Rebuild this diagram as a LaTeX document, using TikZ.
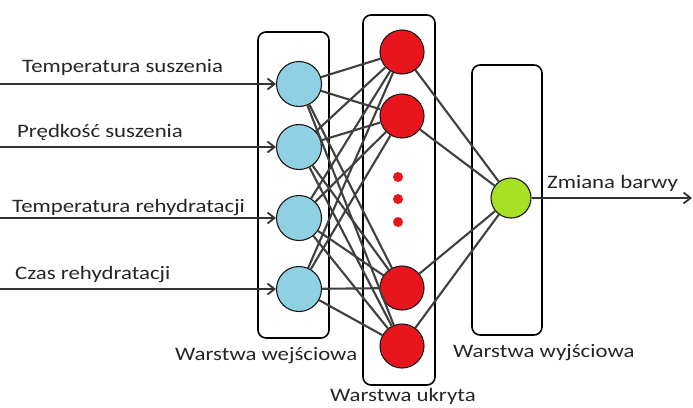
\documentclass[tikz,border=0pt]{standalone}
\usepackage{fontspec}
\setmainfont{Carlito}[FakeStretch=1.2]
\usetikzlibrary{arrows.meta}
\definecolor{inblue}{HTML}{8FD0E2}
\definecolor{hidred}{HTML}{E8161C}
\definecolor{outgreen}{HTML}{A8E026}
\definecolor{txt}{HTML}{262626}
\begin{document}
\begin{tikzpicture}[x=1pt,y=-1pt,
  layerbox/.style={draw=black, line width=1.6pt, rounded corners=8pt, inner sep=0pt},
  inneuron/.style={circle, draw=black!90, line width=1.1pt, fill=inblue, minimum size=45pt, inner sep=0pt},
  hidneuron/.style={circle, draw=black!90, line width=1.1pt, fill=hidred, minimum size=44pt, inner sep=0pt},
  outneuron/.style={circle, draw=black!90, line width=1.1pt, fill=outgreen, minimum size=40pt, inner sep=0pt},
  dotn/.style={circle, fill=hidred, minimum size=10pt, inner sep=0pt},
  link/.style={draw=black!75, line width=2.1pt},
  arrowline/.style={draw=black!80, line width=1.8pt, -{Straight Barb[length=7pt,width=11pt]}},
  lbl/.style={text=txt, font=\fontsize{19}{22}\selectfont, inner sep=0pt, anchor=base west}
]
\useasboundingbox (0,0) rectangle (693,407);
\fill[white] (0,0) rectangle (693,407);

% layer boxes
\node[layerbox, minimum width=71pt, minimum height=306pt] (L1) at (293.5,185) {};
\node[layerbox, minimum width=72pt, minimum height=370pt] (L2) at (399,200) {};
\node[layerbox, minimum width=70pt, minimum height=270pt] (L3) at (507,200) {};

% neurons
\node[inneuron] (i1) at (299,84) {};
\node[inneuron] (i2) at (299,147) {};
\node[inneuron] (i3) at (299,218) {};
\node[inneuron] (i4) at (299,289) {};
\node[hidneuron] (h1) at (402,52) {};
\node[hidneuron] (h2) at (402,116) {};
\node[hidneuron] (h3) at (402,288) {};
\node[hidneuron] (h4) at (402,346) {};
\node[dotn] (d1) at (398,177) {};
\node[dotn] (d2) at (398,199) {};
\node[dotn] (d3) at (398,222) {};
\node[outneuron] (o) at (511,198) {};

% connections
\foreach \a in {i1,i2,i3,i4}{
  \foreach \b in {h1,h2,h3,h4}{
    \draw[link] (\a) -- (\b);
  }
}
\foreach \b in {h1,h2,h3,h4}{
  \draw[link] (\b) -- (o);
}

% inputs
\coordinate (s1) at (0,84);
\coordinate (s2) at (0,147);
\coordinate (s3) at (0,218);
\coordinate (s4) at (0,289);
\foreach \k in {1,2,3,4}{
  \draw[arrowline] (s\k) -- (i\k);
}
\coordinate (e) at (692,198);
\draw[arrowline] (o) -- (e);

% labels
\node[lbl] (t1) at (22,72) {Temperatura suszenia};
\node[lbl] (t2) at (17,137) {Prędkość suszenia};
\node[lbl] (t3) at (12,212) {Temperatura rehydratacji};
\node[lbl] (t4) at (15,279) {Czas rehydratacji};
\node[lbl] (t5) at (547,188) {Zmiana barwy};
\node[lbl] (t6) at (175,360) {Warstwa wejściowa};
\node[lbl] (t7) at (330,401) {Warstwa ukryta};
\node[lbl] (t8) at (453,357) {Warstwa wyjściowa};
\end{tikzpicture}
\end{document}
